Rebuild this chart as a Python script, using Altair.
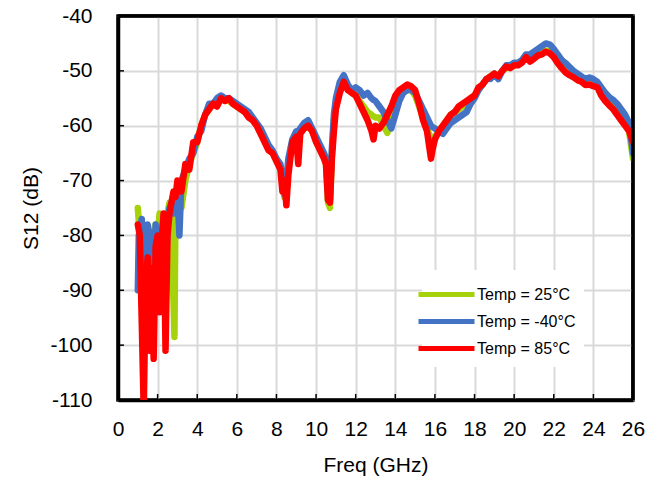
import altair as alt
import pandas as pd

# ---------------- data ----------------
series_names = ["Temp = 25°C", "Temp = -40°C", "Temp = 85°C"]
series_colors = ["#A5D20A", "#4472C4", "#FF0000"]

x_ticks = [0, 2, 4, 6, 8, 10, 12, 14, 16, 18, 20, 22, 24, 26]
y_ticks = [-110, -100, -90, -80, -70, -60, -50, -40]

# low-frequency noisy part (each series its own sampling)
green_low_f = [1.0, 1.1, 1.2, 1.3, 1.4, 1.5, 1.6, 1.7, 1.8, 1.9, 2.0, 2.1, 2.2, 2.3, 2.4, 2.5, 2.6, 2.7, 2.8, 2.85, 2.9, 3.0]
green_low = [-75, -80, -85, -90, -82, -86, -80, -90, -84, -78, -80, -76, -78, -80, -78, -76, -74, -80, -92, -98.5, -76, -73]

blue_low_f = [1.0, 1.05, 1.2, 1.3, 1.4, 1.5, 1.6, 1.7, 1.8, 1.9, 2.0, 2.1, 2.2, 2.3, 2.4, 2.5, 2.6, 2.7, 2.8, 2.9, 3.0, 3.1]
blue_low = [-90, -80, -77, -85, -92, -78, -80, -90, -85, -78, -82, -88, -80, -77, -90, -78, -75, -74, -76, -73, -72, -80]

red_low_f = [1.0, 1.1, 1.2, 1.3, 1.4, 1.5, 1.6, 1.7, 1.8, 1.9, 2.0, 2.1, 2.2, 2.3, 2.4, 2.5, 2.6, 2.7, 2.8, 2.9, 3.0]
red_low = [-78, -80, -96, -112, -88, -84, -101, -86, -102.5, -82, -80, -94, -82, -76, -101, -80, -76, -74, -72, -73, -70]

# main part, shared frequency grid
freq_main = [3.2, 3.4, 3.6, 3.8, 4.0, 4.2, 4.4, 4.6, 4.8, 5.0, 5.2, 5.4, 5.6, 5.8, 6.0, 6.2, 6.4, 6.6, 6.8, 7.0,
             7.2, 7.4, 7.6, 7.8, 8.0, 8.2, 8.3, 8.4, 8.5, 8.6, 8.8, 9.0, 9.1, 9.2, 9.4, 9.6, 9.8, 10.0, 10.2, 10.4,
             10.5, 10.6, 10.7, 10.8, 10.9, 11.0, 11.2, 11.4, 11.6, 11.8, 12.0, 12.2, 12.4, 12.6, 12.8, 12.9,
             13.0, 13.2, 13.4, 13.6, 13.8, 14.0, 14.2, 14.4, 14.6, 14.8, 15.0, 15.2, 15.4, 15.6, 15.8, 15.9,
             16.0, 16.2, 16.4, 16.6, 16.8, 17.0, 17.2, 17.4, 17.6, 17.8, 18.0, 18.2, 18.4, 18.6, 18.8, 19.0,
             19.2, 19.4, 19.6, 19.8, 20.0, 20.2, 20.4, 20.6, 20.8, 21.0, 21.2, 21.4, 21.6, 21.8, 22.0, 22.2,
             22.4, 22.6, 22.8, 23.0, 23.2, 23.4, 23.6, 23.8, 24.0, 24.2, 24.4, 24.6, 24.8, 25.0, 25.2, 25.4,
             25.6, 25.8, 26.0]

green_main = [-75, -70, -67, -65, -63, -60, -58, -57, -56, -55.5, -55, -55, -55.5, -56, -56.5, -57, -57.5, -58, -59, -60,
              -61, -62.5, -64, -65, -66, -67.5, -70, -73, -71, -67, -63, -62, -61.5, -61, -60.5, -60, -61, -62.5, -64, -65.5,
              -67, -74, -75, -65, -59, -56, -53, -52, -53, -54, -54.5, -55.5, -56.5, -57.5, -58, -58.3,
              -58.5, -58.5, -60, -61.3, -59, -56, -55, -54, -53.5, -53.5, -54.5, -56.5, -58.5, -60.5, -62.5, -62.3,
              -62, -61, -60, -59, -58, -57.5, -57, -56.5, -56, -55, -54.5, -53.5, -52.5, -51.5, -51, -50.5,
              -51, -50, -49.5, -49.2, -49, -48.8, -48.3, -47.8, -48, -47.5, -47, -46.7, -46.3, -46.5, -47.2, -48.2,
              -49, -49.8, -50.4, -51, -51.4, -51.8, -52.2, -52.2, -52.5, -53, -54, -55, -55.8, -56.5, -57.5, -58.5,
              -59.5, -61, -66]

blue_main = [-70, -68, -66, -65, -62, -61, -58, -56, -56, -55, -54.5, -55, -55, -55.5, -56, -56.5, -57, -57.5, -58.5, -59.5,
             -60.5, -62, -63.5, -64.5, -66, -67, -70, -72.5, -70, -66, -62.5, -61, -61, -60.5, -59.5, -59, -60.5, -62, -63.5, -65,
             -66, -72, -73.5, -64, -58, -55, -52, -50.8, -52.5, -53.5, -53, -53.5, -54.5, -54, -55, -55.3,
             -55.5, -56.5, -57.5, -59, -60.5, -58, -55.5, -54, -53.5, -53.5, -54, -55.5, -57, -58.5, -60, -60.3,
             -60.5, -61, -61.5, -60.5, -59.5, -59, -58.5, -58, -57.5, -56, -55, -53.5, -52.5, -51.5, -51.5, -50.5,
             -51.5, -50, -49, -49, -48.5, -48.5, -48, -47, -47, -46.5, -46, -45.5, -45, -45.2, -46, -47,
             -48, -48.6, -49.3, -50, -50.5, -51, -51.5, -51.2, -51.5, -52, -53, -54, -54.8, -55.3, -56, -57,
             -58, -59.5, -65]

red_main = [-72, -67, -68, -63, -63, -60, -58, -57, -56, -56.5, -55, -55.5, -55, -56, -56.5, -57, -57.5, -58.5, -59, -60,
            -61.5, -63, -64.5, -65, -66.5, -68, -72, -70, -74.5, -69, -63, -62, -67, -61.5, -60.5, -60, -61, -63, -64.5, -66,
            -67, -73.5, -74, -66, -61, -57, -54, -52, -53.5, -54, -54.5, -56, -57.5, -59, -61, -62.5,
            -60, -60.5, -59.5, -58, -56.5, -54.5, -53.5, -53, -52.5, -52.8, -53.5, -56, -59, -61, -66, -64,
            -62.5, -61, -60, -59, -58, -57.5, -56.5, -56, -55.5, -55, -54.5, -53, -52.5, -51.5, -51, -50.5,
            -51, -50, -49.2, -49.5, -49, -49, -48.5, -47.5, -48.3, -47.8, -47.2, -47, -46.5, -46.8, -47.5, -48.6,
            -49.5, -50.3, -50.8, -51.2, -51.7, -52, -52.6, -52.5, -52.8, -53, -54.5, -55.5, -56.3, -57, -58, -59,
            -60, -61, -63]

assert len(freq_main) == len(green_main) == len(blue_main) == len(red_main)


def make_df(f_low, v_low, v_main, name):
    return pd.DataFrame({
        "freq": list(f_low) + list(freq_main),
        "s12": list(v_low) + list(v_main),
        "series": name,
    })


df_green = make_df(green_low_f, green_low, green_main, series_names[0])
df_blue = make_df(blue_low_f, blue_low, blue_main, series_names[1])
df_red = make_df(red_low_f, red_low, red_main, series_names[2])
df_xt = pd.DataFrame({"freq": x_ticks})
df_yt = pd.DataFrame({"s12": y_ticks})
df_one = pd.DataFrame({"k": [0]})

# ---------------- chart ----------------
FONT = "Liberation Sans"
W, H = 515, 384
xscale = alt.Scale(domain=[0, 26], nice=False, zero=False)
yscale = alt.Scale(domain=[-110, -40], nice=False, zero=False)
cscale = alt.Scale(domain=series_names, range=series_colors)

x_axis = alt.Axis(values=x_ticks, title="Freq (GHz)", grid=True, ticks=False,
                  domain=True, domainColor="black", domainWidth=3.5,
                  labelFlush=False, labelExpr="'' + datum.value",
                  labelPadding=18, titlePadding=15, labelFontSize=21, titleFontSize=21)
y_axis = alt.Axis(values=y_ticks, title="S12 (dB)", grid=True, ticks=False,
                  domain=True, domainColor="black", domainWidth=3.5,
                  labelFlush=False, labelExpr="'' + datum.value",
                  labelPadding=26, titlePadding=8, labelFontSize=21, titleFontSize=21)

X = alt.X("freq:Q", scale=xscale, axis=x_axis)
Y = alt.Y("s12:Q", scale=yscale, axis=y_axis)

legend = alt.Legend(
    orient="none", legendX=304, legendY=254, title=None,
    symbolType="M-2,0H2", symbolSize=784, symbolStrokeWidth=5,
    labelFontSize=16, labelFont=FONT, labelColor="black", labelOffset=14,
    fillColor="white", padding=8, rowPadding=0,
)


def line_layer(df):
    return alt.Chart(df).mark_line(strokeWidth=6.5, clip=True, strokeJoin="round", strokeCap="round").encode(
        x=X, y=Y,
        color=alt.Color("series:N", scale=cscale, legend=legend),
    )


ytick_layer = alt.Chart(df_yt).mark_rule(color="black", strokeWidth=1.5).encode(
    y=Y, x=alt.value(0), x2=alt.value(6))
xtick_layer = alt.Chart(df_xt).mark_rule(color="black", strokeWidth=1.5).encode(
    x=X, y=alt.value(H), y2=alt.value(H - 6))
top_border = alt.Chart(df_one).mark_rule(color="black", strokeWidth=3.5).encode(
    x=alt.value(0), x2=alt.value(W), y=alt.value(0))
right_border = alt.Chart(df_one).mark_rule(color="black", strokeWidth=3.5).encode(
    x=alt.value(W), y=alt.value(0), y2=alt.value(H))

chart = alt.layer(
    line_layer(df_green),
    line_layer(df_blue),
    line_layer(df_red),
    ytick_layer,
    xtick_layer,
    top_border,
    right_border,
).properties(
    width=W, height=H,
    autosize=alt.AutoSizeParams(type="none"),
    padding={"left": 118, "top": 16, "right": 16, "bottom": 87},
    background="white",
).configure_view(
    stroke="black", strokeWidth=3.5,
).configure_axis(
    labelFont=FONT, titleFont=FONT, labelColor="black", titleColor="black",
    titleFontWeight="normal", gridColor="#D9D9D9", gridWidth=2,
)

chart.save("out.html", embed_options={"renderer": "svg", "actions": False})
